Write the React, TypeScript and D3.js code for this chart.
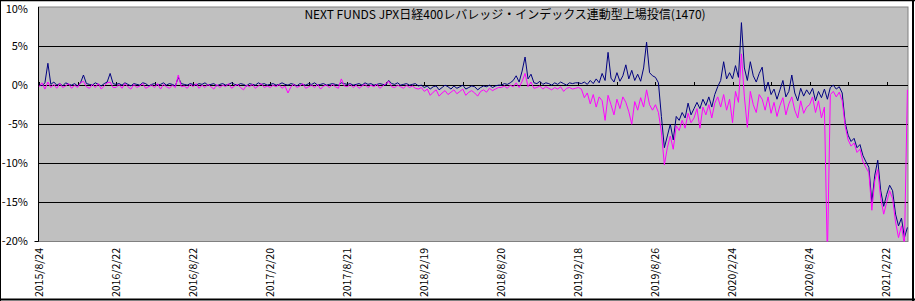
import React from 'react';
import * as d3 from 'd3';

const titleText = 'NEXT FUNDS  JPX日経400レバレッジ・インデックス連動型上場投信(1470)';

const xLabels = [
  '2015/8/24', '2016/2/22', '2016/8/22', '2017/2/20', '2017/8/21', '2018/2/19',
  '2018/8/20', '2019/2/18', '2019/8/26', '2020/2/24', '2020/8/24', '2021/2/22',
];

const yTicks = [10, 5, 0, -5, -10, -15, -20];

// weekly readings (%), navy series
const blueSeries = [
  0.2, -0.1, 0.3, 2.8, 0.1, 0.4, 0.0, 0.2, -0.1, 0.3, 0.1, 0.0, 0.2, -0.1, 0.3, 1.3, 0.2, 0.1, 0.0, 0.3, 0.1, -0.1, 0.2, 0.4, 1.5, 0.2,
  0.1, 0.2, 0.0, 0.3, 0.1, -0.1, 0.2, 0.1, 0.0, 0.3, 0.2, -0.1, 0.1, 0.2, 0.0, 0.1, 0.3, 0.0, 0.2, 0.1, -0.1, 1.0, 0.2, 0.1, 0.0, 0.2,
  0.1, 0.0, 0.2, 0.1, 0.3, 0.0, 0.1, 0.2, -0.1, 0.1, 0.2, 0.0, 0.1, 0.3, 0.1, 0.0, 0.2, 0.1, -0.1, 0.2, 0.1, 0.0, 0.3, 0.1, 0.2, 0.0,
  0.1, 0.2, 0.0, 0.1, 0.3, 0.1, 0.0, 0.2, 0.1, -0.1, 0.2, 0.1, 0.0, 0.2, 0.1, 0.3, 0.0, 0.1, 0.2, 0.0, 0.1, 0.2, 0.1, 0.0, 0.3, 0.2,
  0.1, 0.2, 0.0, 0.1, 0.2, 0.0, 0.3, 0.1, 0.2, 0.0, 0.1, 0.2, 0.1, 0.0, 0.6, 0.2, 0.1, 0.3, 0.0, 0.1, 0.2, 0.0, 0.1, 0.2, -0.1, 0.0,
  -0.3, -0.1, -0.5, -0.2, -0.1, -0.6, -0.3, 0.0, -0.2, -0.5, -0.1, -0.4, -0.2, 0.0, -0.5, -0.3, -0.1, -0.2, -0.6, -0.3, -0.1, -0.2, 0.0, -0.3, -0.1, 0.0,
  0.0, 0.2, 0.1, 0.3, 0.6, 1.2, 0.4, 1.8, 3.6, 0.8, 1.4, 0.3, 0.2, 0.5, 0.1, 0.3, 0.2, 0.0, 0.3, 0.1, 0.4, 0.2, 0.0, 0.3, 0.2, 0.3,
  0.3, 0.2, 0.4, 0.1, 0.6, 0.2, 0.8, 0.3, 1.5, 0.6, 4.2, 0.9, 0.4, 1.6, 0.5, 1.2, 2.6, 0.8, 1.9, 0.6, 1.4, 0.5, 2.2, 5.5, 1.6, 1.2,
  1.0, 0.3, -4.0, -8.0, -6.5, -5.0, -7.0, -4.0, -4.5, -3.5, -4.2, -2.3, -3.8, -3.0, -2.2, -3.0, -1.8, -2.6, -1.5, -2.8, -1.2, -0.2, 0.6, 3.0, 0.8, 1.6,
  0.8, 2.5, 1.0, 8.0, 2.2, 0.6, 3.0, 1.2, 0.4, 1.5, 2.3, -0.8, 0.4, -1.2, -0.5, -1.8, -0.6, 0.6, -1.5, -0.8, 1.3, -1.0, -2.0, -0.4, -1.4, -0.6,
  -1.2, -0.4, -2.0, -0.8, -1.6, -0.5, -1.8, -0.3, 0.0, -0.5, -0.2, -1.0, -4.8, -6.4, -7.2, -6.8, -8.0, -7.6, -9.0, -9.8, -10.5, -15.0, -11.5, -9.6, -13.5, -15.5,
  -14.0, -12.8, -13.5, -16.5, -18.0, -17.0, -19.5, -18.2,
];

// weekly readings (%), magenta series
const magentaSeries = [
  -0.2, 0.3, -0.5, 0.4, -0.3, 0.1, -0.4, 0.2, -0.3, -0.1, 0.2, -0.4, 0.0, -0.3, 0.3, 0.5, -0.2, -0.4, 0.1, -0.3, 0.2, -0.5, -0.1, 0.3, 0.4, -0.3,
  -0.3, 0.1, -0.4, 0.2, -0.2, -0.5, 0.1, -0.3, -0.1, 0.2, -0.4, -0.2, 0.0, -0.3, 0.2, -0.5, 0.1, -0.2, -0.4, 0.0, -0.3, 1.3, -0.2, -0.1, -0.4, 0.1,
  -0.2, 0.2, -0.4, 0.0, -0.3, 0.1, -0.2, -0.5, 0.1, -0.3, 0.0, -0.2, 0.2, -0.4, -0.1, 0.1, -0.3, -0.6, 0.0, -0.2, 0.1, -0.4, -0.1, 0.2, -0.3, -0.1,
  -0.3, 0.0, -0.2, 0.1, -0.4, -0.1, -1.0, -0.2, 0.1, -0.3, -0.1, 0.2, -0.4, -0.2, 0.0, -0.3, 0.1, -0.5, -0.1, 0.0, -0.3, 0.1, -0.2, -0.4, 0.8, -0.1,
  -0.2, 0.1, -0.3, 0.0, -0.4, -0.1, 0.1, -0.3, 0.0, -0.2, 0.1, -0.4, -0.1, 0.2, 0.5, -0.2, -0.3, 0.0, -0.2, -0.4, 0.0, -0.3, -0.1, -0.4, -0.5, -0.3,
  -0.8, -0.5, -1.3, -0.9, -0.6, -1.4, -1.0, -0.7, -1.2, -0.9, -0.6, -1.1, -0.8, -0.5, -1.3, -0.9, -0.7, -1.0, -1.4, -0.8, -0.6, -0.9, -0.4, -0.7, -0.5, -0.3,
  -0.3, -0.1, -0.4, 0.0, -0.2, 0.3, -0.3, 0.5, 1.5, -0.2, 0.4, -0.4, -0.3, -0.1, -0.5, -0.2, -0.4, -0.6, -0.3, -0.5, -0.2, -0.8, -0.4, -0.3, -0.5, -0.4,
  -0.3, -0.5, -1.6, -1.0, -2.4, -1.2, -2.8, -1.5, -2.0, -4.5, -1.3, -2.5, -3.8, -1.8, -3.0, -1.5, -2.2, -3.4, -5.0, -2.1, -3.2, -1.6, -2.8, -0.6, -2.5, -3.2,
  -2.5, -3.5, -6.0, -10.2, -8.0, -6.5, -8.2, -5.2, -5.8, -4.5, -5.5, -3.6, -4.8, -4.2, -3.0, -5.5, -2.8, -3.8, -2.5, -4.2, -2.3, -1.5, -2.8, -1.2, -3.2, -1.8,
  -4.8, -0.8, -2.2, 4.0, -1.5, -5.4, -0.8, -2.5, -3.5, -1.2, -1.8, -3.2, -1.5, -3.6, -2.2, -4.0, -2.6, -1.6, -3.8, -2.4, -1.5, -3.2, -4.2, -2.0, -3.6, -2.8,
  -2.5, -1.5, -3.5, -2.0, -4.2, -2.8, -22.0, -1.2, -0.8, -1.5, -0.9, -2.0, -5.2, -7.0, -7.8, -7.4, -8.6, -8.2, -9.8, -10.5, -11.2, -16.0, -12.2, -10.8, -14.5, -16.5,
  -15.0, -13.5, -14.5, -17.5, -19.5, -18.0, -20.5, -0.6,
];

const LABEL_STEP = 26;
const TICK_STEP = 13;

export default function App() {
  const W = 915;
  const H = 301;
  const left = 38.5;
  const right = 908;
  const top = 7;
  const bottom = 241.5;

  const x = d3.scaleLinear().domain([0, blueSeries.length - 1]).range([39, 907.4]);
  const y = d3.scaleLinear().domain([-20, 10]).range([bottom, top]);
  const line = d3
    .line<number>()
    .x((_, i) => x(i))
    .y((d) => y(d));

  const labelIdx = xLabels.map((_, i) => i * LABEL_STEP);
  const tickIdx = d3.range(0, blueSeries.length, TICK_STEP);
  const font = '"Noto Sans CJK JP", "Noto Sans", sans-serif';

  return (
    <svg
      width={W}
      height={H}
      viewBox={`0 0 ${W} ${H}`}
      style={{ position: 'absolute', left: 0, top: 0, background: '#fff' }}
    >
      <defs>
        <clipPath id="plotClip">
          <rect x={left} y={top} width={right - left} height={bottom - top} />
        </clipPath>
      </defs>
      <rect x={0} y={0} width={W} height={H} fill="#fff" />
      {/* plot area */}
      <rect x={left} y={top} width={right - left} height={bottom - top} fill="#C0C0C0" stroke="#808080" strokeWidth={1} />
      {/* gridlines */}
      {yTicks
        .filter((t) => t !== 10 && t !== -20)
        .map((t) => (
          <line key={t} x1={left} x2={right} y1={Math.round(y(t)) + 0.5} y2={Math.round(y(t)) + 0.5} stroke="#000" strokeWidth={1} />
        ))}
      {/* category ticks on zero line */}
      {tickIdx.map((i) => (
        <line key={i} x1={Math.round(x(i)) + 0.5} x2={Math.round(x(i)) + 0.5} y1={Math.round(y(0)) - 3} y2={Math.round(y(0)) + 0.5} stroke="#000" strokeWidth={1} />
      ))}
      {/* left axis */}
      <line x1={left} x2={left} y1={top} y2={bottom} stroke="#000" strokeWidth={1} />
      <line x1={left - 4} x2={left} y1={bottom} y2={bottom} stroke="#000" strokeWidth={1} />
      {/* series */}
      <g clipPath="url(#plotClip)">
        <path d={line(blueSeries) || ''} fill="none" stroke="#000080" strokeWidth={1} />
        <path d={line(magentaSeries) || ''} fill="none" stroke="#FF00FF" strokeWidth={1} />
      </g>
      {/* y labels */}
      {yTicks.map((t) => (
        <text key={t} x={28} y={Math.max(y(t), 9)} dy="0.33em" textAnchor="end" fontFamily={font} fontSize={11} fill="#000">
          {`${t}%`}
        </text>
      ))}
      {/* x labels */}
      {labelIdx.map((idx, i) => (
        <text
          key={i}
          transform={`translate(${x(idx)},248) rotate(-90)`}
          dy="0.35em"
          textAnchor="end"
          fontFamily={font}
          fontSize={10.5}
          fill="#000"
        >
          {xLabels[i]}
        </text>
      ))}
      {/* title */}
      <text x={505} y={15} dy="0.35em" textAnchor="middle" fontFamily={font} fontSize={12} fill="#000">
        {titleText}
      </text>
      {/* outer border */}
      <line x1={0.5} x2={0.5} y1={0} y2={H} stroke="#000" strokeWidth={1} />
      <line x1={0} x2={W} y1={0.5} y2={0.5} stroke="#000" strokeWidth={1.5} />
      <line x1={913} x2={913} y1={0} y2={H} stroke="#000" strokeWidth={2} />
      <line x1={0} x2={W} y1={299.5} y2={299.5} stroke="#000" strokeWidth={2} />
    </svg>
  );
}
